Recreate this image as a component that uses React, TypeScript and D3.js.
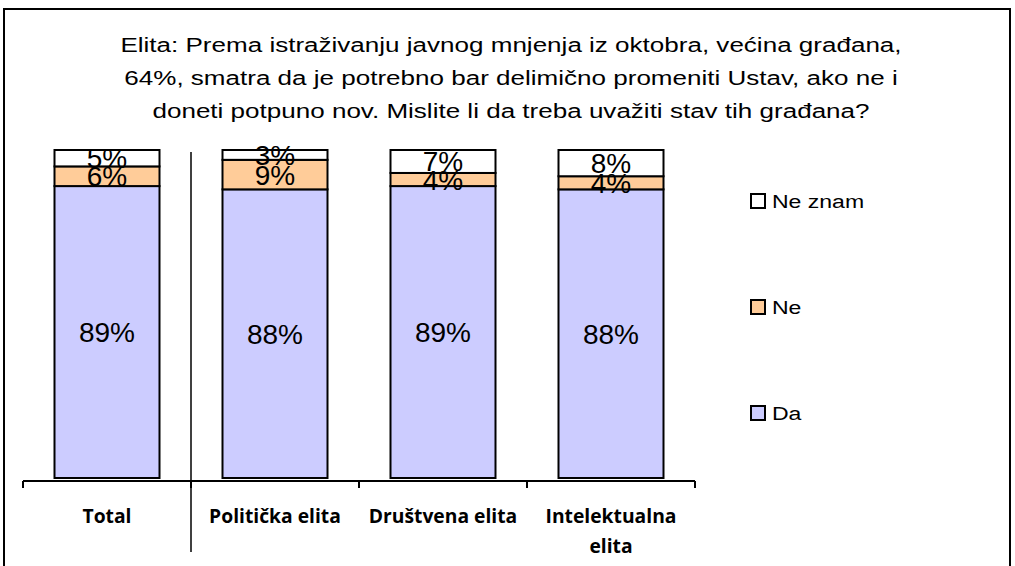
import React from "react";
import * as d3 from "d3";

const categories = ["Total", "Politička elita", "Društvena elita", "Intelektualna elita"];
const categoryLines = [["Total"], ["Politička elita"], ["Društvena elita"], ["Intelektualna", "elita"]];
const da = [89, 88, 89, 88];
const ne = [6, 9, 4, 4];
const neZnam = [5, 3, 7, 8];
const seriesNames = ["Da", "Ne", "Ne znam"];
const seriesColors = ["#ccccff", "#ffcc99", "#ffffff"];
const titleLines = [
  "Elita: Prema istraživanju javnog mnjenja iz oktobra, većina građana,",
  "64%, smatra da je potrebno bar delimično promeniti Ustav, ako ne i",
  "doneti potpuno nov. Mislite li da treba uvažiti stav tih građana?",
];

export default function App() {
  const W = 1015, H = 566;
  const table = categories.map((c, i) => ({ cat: c, Da: da[i], Ne: ne[i], "Ne znam": neZnam[i] }));
  const stacked = d3.stack<any>().keys(seriesNames)(table);

  const x = d3.scaleBand().domain(categories).range([23, 695]).padding(0);
  const y = d3.scaleLinear().domain([0, 100]).range([478, 150]);
  const barW = x.bandwidth() * 0.625;
  const off = (x.bandwidth() - barW) / 2;
  const color = d3.scaleOrdinal<string>().domain(seriesNames).range(seriesColors);
  const legendY = d3.scalePoint().domain(seriesNames.slice().reverse()).range([201, 413]);

  const ticks = categories.map((c) => x(c)!).concat([x.range()[1]]);
  const titleX = 511;
  const stretch = 1.24; // source text is rendered wider than tall

  return (
    <svg width={W} height={H} style={{ position: "absolute", left: 0, top: 0 }}
      fontFamily="'Liberation Sans', Arial, sans-serif">
      <rect x={0} y={0} width={W} height={H} fill="#fff" />
      <path d={`M4,${H + 5}V9H1010V${H + 5}`} fill="none" stroke="#000" strokeWidth={2} />
      <g transform={`translate(${titleX},0) scale(${stretch},1)`}>
        {titleLines.map((t, i) => (
          <text key={i} x={0} y={52 + i * 33} textAnchor="middle" fontSize={21}>{t}</text>
        ))}
      </g>
      {stacked.map((s) => (
        <g key={s.key}>
          {s.map((d, i) => (
            <rect key={i} x={x(categories[i])! + off} y={y(d[1])} width={barW} height={y(d[0]) - y(d[1])}
              fill={color(s.key)} stroke="#000" strokeWidth={2} />
          ))}
        </g>
      ))}
      {stacked.map((s) =>
        s.map((d, i) => (
          <text key={s.key + i} x={x(categories[i])! + x.bandwidth() / 2} y={(y(d[0]) + y(d[1])) / 2 + 10}
            textAnchor="middle" fontSize={28}>{`${d[1] - d[0]}%`}</text>
        ))
      )}
      <line x1={x.range()[0]} x2={x.range()[1]} y1={481} y2={481} stroke="#000" strokeWidth={2} />
      {ticks.map((t, i) => (
        <line key={i} x1={t} x2={t} y1={481} y2={488} stroke="#000" strokeWidth={2} />
      ))}
      <line x1={x(categories[1])!} x2={x(categories[1])!} y1={152} y2={552} stroke="#000" strokeWidth={1.5} />
      {categoryLines.map((lines, i) =>
        lines.map((l, j) => (
          <text key={i + "-" + j} x={x(categories[i])! + x.bandwidth() / 2} y={523 + j * 30}
            textAnchor="middle" fontSize={19.3} fontWeight="bold" fontFamily="'Open Sans', sans-serif">{l}</text>
        ))
      )}
      {seriesNames.map((n) => (
        <g key={n} transform={`translate(751,${legendY(n)})`}>
          <rect x={0} y={-7} width={14} height={14} fill={color(n)} stroke="#000" strokeWidth={2} />
          <text x={21} y={7} fontSize={18} transform="scale(1.28,1)" style={{ transformOrigin: "21px 0" }}>{n}</text>
        </g>
      ))}
    </svg>
  );
}
